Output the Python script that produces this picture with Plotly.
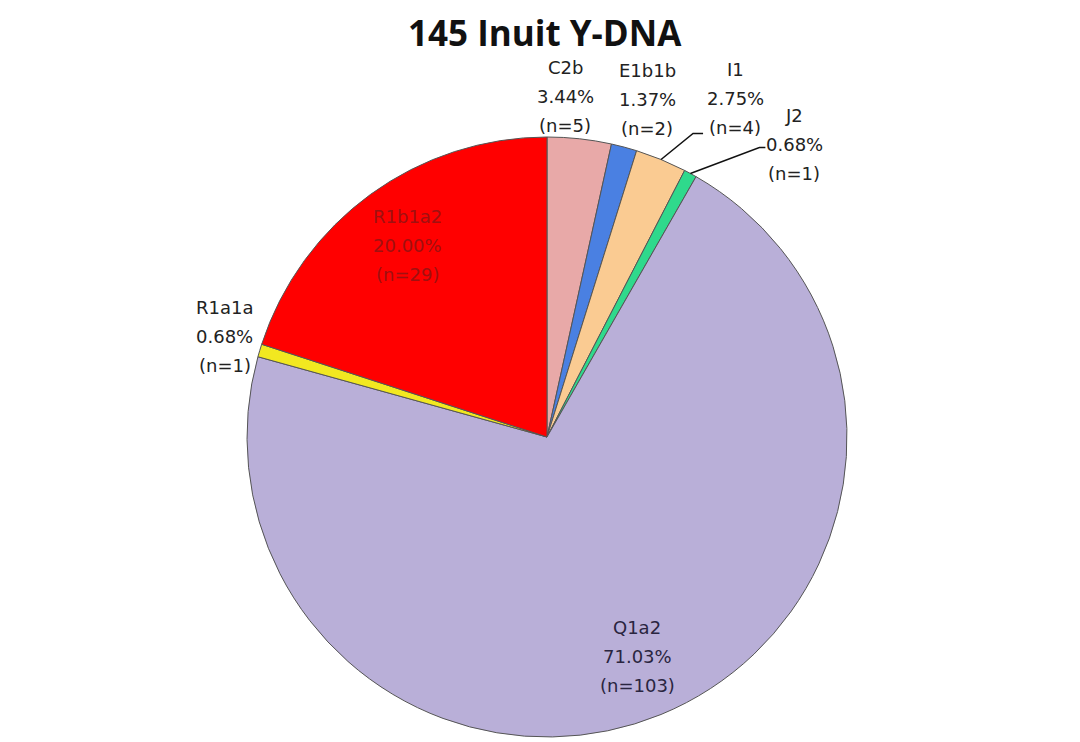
import math
import plotly.graph_objects as go

labels = ["C2b", "E1b1b", "I1", "J2", "Q1a2", "R1a1a", "R1b1a2"]
counts = [5, 2, 4, 1, 103, 1, 29]
pct_text = ["3.44%", "1.37%", "2.75%", "0.68%", "71.03%", "0.68%", "20.00%"]
colors = ["#E8A9A8", "#4A80E2", "#FACB92", "#2FD98C", "#B9AFD8", "#F2E820", "#FF0000"]
text_col = ["#222222", "#222222", "#222222", "#222222", "#2A2540", "#222222", "#A01010"]

W, H = 1080, 742
OFF = 8  # page offset of the plot in the browser
CX, CY, R = 547, 437, 300  # pie centre / radius in screen pixels

# label placement (pixel offsets from slice edge point, or radial factor for inside labels)
label_offset = {
    "C2b": (-14, -42), "E1b1b": (23, -48), "I1": (74, -61),
    "J2": (104, -29), "R1a1a": (-35, -14),
}
inside_factor = {"Q1a2": 0.79, "R1b1a2": 0.79}
leaders = {"I1": [(32, -26), (42, -26)], "J2": [(69, -26), (75, -26)]}
LINE_GAP = 29


def px2paper(x, y):
    return (x - OFF) / W, 1 - (y - OFF) / H


x0, y0 = px2paper(CX - R, CY + R)
x1, y1 = px2paper(CX + R, CY - R)

fig = go.Figure(go.Pie(
    labels=labels,
    values=counts,
    sort=False,
    direction="clockwise",
    rotation=0,
    textinfo="none",
    marker=dict(colors=colors, line=dict(color="#555555", width=1)),
    domain=dict(x=[x0, x1], y=[y0, y1]),
    showlegend=False,
    hoverinfo="label+value",
))

total = sum(counts)
cum = 0
annotations = []
shapes = []
for lab, n, pct, tc in zip(labels, counts, pct_text, text_col):
    mid = (cum + n / 2) / total * 2 * math.pi
    cum += n
    sx, sy = math.sin(mid), -math.cos(mid)
    if lab in inside_factor:
        f = inside_factor[lab]
        lx, ly = CX + f * R * sx, CY + f * R * sy
    else:
        ex, ey = CX + R * sx, CY + R * sy
        dx, dy = label_offset[lab]
        lx, ly = ex + dx, ey + dy
        if lab in leaders:
            pts = [(ex, ey)] + [(ex + a, ey + b) for a, b in leaders[lab]]
            path = "M " + " L ".join(f"{px2paper(x, y)[0]:.5f},{px2paper(x, y)[1]:.5f}" for x, y in pts)
            shapes.append(dict(type="path", xref="paper", yref="paper", path=path,
                               line=dict(color="#111111", width=1.5)))
    for i, line in enumerate([lab, pct, f"(n={n})"]):
        x, y = px2paper(lx, ly + (i - 1) * LINE_GAP)
        annotations.append(dict(text=line, x=x, y=y, xref="paper", yref="paper",
                                xanchor="center", yanchor="middle", showarrow=False,
                                font=dict(family="DejaVu Sans", size=18, color=tc)))

tx, ty = px2paper(544.5, 32)
annotations.append(dict(text="<b>145 Inuit Y-DNA</b>", x=tx, y=ty,
                        xref="paper", yref="paper", xanchor="center", yanchor="middle",
                        showarrow=False,
                        font=dict(family="Open Sans", size=35, color="#111111")))

fig.update_layout(
    width=W, height=H,
    margin=dict(l=0, r=0, t=0, b=0),
    paper_bgcolor="white",
    annotations=annotations,
    shapes=shapes,
)

fig.write_html("out.html")
